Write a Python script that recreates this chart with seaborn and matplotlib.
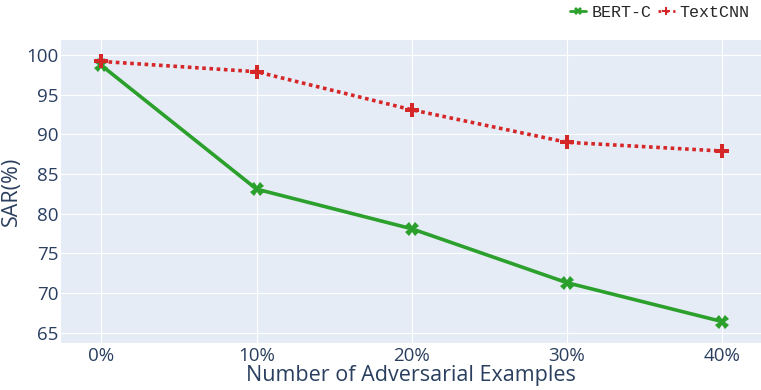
import pandas as pd
import matplotlib.pyplot as plt
import seaborn as sns

# values
x_labels = ['0%', '10%', '20%', '30%', '40%']
bert_c = [98.7, 83.1, 78.1, 71.3, 66.4]
textcnn = [99.2, 97.9, 93.1, 89.0, 87.9]
y_ticks = [65, 70, 75, 80, 85, 90, 95, 100]

df = pd.DataFrame({
    'pos': list(range(len(x_labels))) * 2,
    'SAR': bert_c + textcnn,
    'model': ['BERT-C'] * len(bert_c) + ['TextCNN'] * len(textcnn),
})

sns.set_theme(style='darkgrid', rc={
    'axes.facecolor': '#E5ECF6',
    'grid.color': 'white',
    'grid.linewidth': 0.8,
    'axes.edgecolor': 'none',
})
plt.rcParams['font.family'] = ['Open Sans', 'DejaVu Sans']

fig = plt.figure(figsize=(7.61, 3.9), dpi=100)
ax = fig.add_axes([61 / 761, 1 - 343 / 390, 700 / 761, 303 / 390])

palette = {'BERT-C': '#2ca02c', 'TextCNN': '#d62728'}
sns.lineplot(data=df, x='pos', y='SAR', hue='model', style='model',
             palette=palette, dashes={'BERT-C': '', 'TextCNN': (1, 1)},
             markers={'BERT-C': 'X', 'TextCNN': 'P'}, markersize=10,
             markeredgewidth=0, linewidth=2.6, ax=ax, legend=False)

ax.set_xlim(-0.26, 4.25)
ax.set_ylim(63.7, 101.9)
ax.set_xticks(range(len(x_labels)))
ax.set_xticklabels(x_labels)
ax.set_yticks(y_ticks)
ax.tick_params(colors='#2a3f5f', labelsize=13.5, length=0)
ax.tick_params(axis='y', pad=2)
ax.tick_params(axis='x', pad=3)
ax.set_xlabel('Number of Adversarial Examples', fontsize=15.5, color='#2a3f5f', labelpad=0)
ax.set_ylabel('SAR(%)', fontsize=15.5, color='#2a3f5f', labelpad=3)

# legend, horizontal at top right
handles = [
    plt.Line2D([], [], color='#2ca02c', lw=2, marker='X', markersize=6, markeredgewidth=0),
    plt.Line2D([], [], color='#d62728', lw=2, ls=':', marker='P', markersize=6, markeredgewidth=0),
]
fig.legend(handles, ['BERT-C', 'TextCNN'], loc='upper right', bbox_to_anchor=(1.005, 1.025),
           ncol=2, frameon=False, handlelength=1.0, handletextpad=0.3, columnspacing=0.4,
           prop={'family': 'Liberation Mono', 'size': 12})

fig.savefig('out.png', dpi=100)
